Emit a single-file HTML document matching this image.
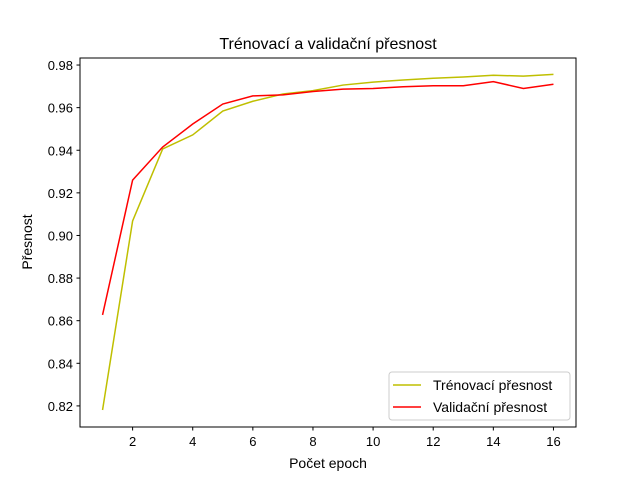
<!DOCTYPE html>
<html><head><meta charset="utf-8"><style>
body{margin:0;background:#fff}
svg{font-family:"Liberation Sans","DejaVu Sans",sans-serif}
</style></head><body>
<svg id="chart" width="640" height="480">
<rect width="640" height="480" fill="#fff"/>
<text x="328" y="49" font-size="16" text-anchor="middle">Trénovací a validační přesnost</text>
<g id="ticks"></g>
<g id="lines"></g>
<rect x="80" y="58" width="496" height="369" fill="none" stroke="#000" stroke-width="1"/>
<text x="328" y="468" font-size="14" text-anchor="middle">Počet epoch</text>
<text x="32" y="242" font-size="14" text-anchor="middle" transform="rotate(-90 32 242)">Přesnost</text>
<g>
<rect x="389" y="372" width="181" height="48" rx="3" fill="#fff" fill-opacity="0.8" stroke="#ccc"/>
<line x1="393" y1="385" x2="421" y2="385" stroke="#bfbf00" stroke-width="1.5"/>
<text x="433" y="390" font-size="14">Trénovací přesnost</text>
<line x1="393" y1="407" x2="421" y2="407" stroke="#ff0000" stroke-width="1.5"/>
<text x="433" y="412" font-size="14">Validační přesnost</text>
</g>
</svg>
<script>
const epochs=[1,2,3,4,5,6,7,8,9,10,11,12,13,14,15,16];
const trainAcc=[0.8181,0.9068,0.9406,0.9472,0.9584,0.963,0.9664,0.968,0.9706,0.972,0.973,0.9738,0.9744,0.9752,0.9748,0.9756];
const valAcc=[0.8627,0.926,0.9415,0.9523,0.9617,0.9655,0.966,0.9676,0.9687,0.969,0.9698,0.9703,0.9703,0.9722,0.969,0.971];
const xTicks=[2,4,6,8,10,12,14,16];
const yTicks=[0.82,0.84,0.86,0.88,0.90,0.92,0.94,0.96,0.98];
const NS="http://www.w3.org/2000/svg";
const X0=80,X1=576,Y0=427,Y1=58;
const xmin=0.25,xmax=16.75,ymin=0.8101,ymax=0.9833;
const sx=v=>X0+(v-xmin)/(xmax-xmin)*(X1-X0);
const sy=v=>Y0-(v-ymin)/(ymax-ymin)*(Y0-Y1);
const tg=document.getElementById('ticks'),lg=document.getElementById('lines');
function mk(tag,at,parent){const e=document.createElementNS(NS,tag);for(const k in at)e.setAttribute(k,at[k]);parent.appendChild(e);return e;}
xTicks.forEach(t=>{
 const l=mk('line',{x1:sx(t),x2:sx(t),y1:427,y2:430.5,stroke:'#000'},tg);
 
 
 const s=mk('text',{x:sx(t),y:446,'font-size':13,'text-anchor':'middle'},tg);s.textContent=t;
 
 
});
yTicks.forEach(t=>{
 const l=mk('line',{x1:76.5,x2:80,y1:sy(t),y2:sy(t),stroke:'#000'},tg);
 
 
 const s=mk('text',{x:73,y:sy(t)+5,'font-size':13,'text-anchor':'end'},tg);s.textContent=t.toFixed(2);
 
 
});
function line(vals,color,name){
 const p=mk('polyline',{points:epochs.map((e,i)=>sx(e)+','+sy(vals[i])).join(' '),fill:'none',stroke:color,'stroke-width':1.5},lg);
 
 
}
line(trainAcc,'#bfbf00','train-accuracy-line');
line(valAcc,'#ff0000','validation-accuracy-line');
</script>
</body></html>
